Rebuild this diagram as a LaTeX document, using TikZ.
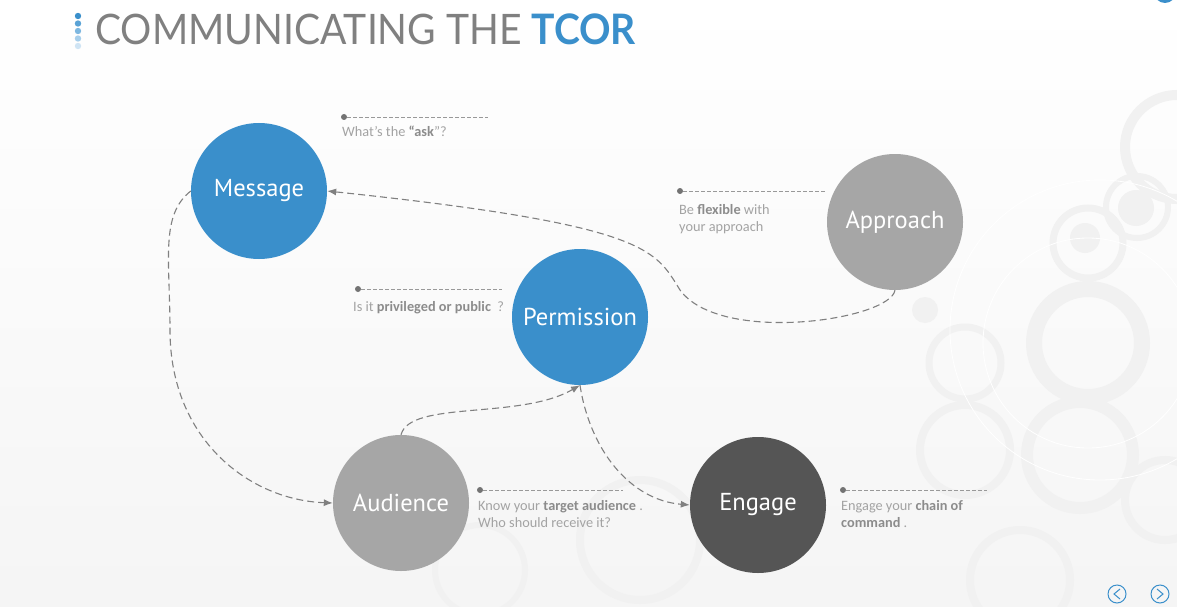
\documentclass[tikz,border=0pt]{standalone}
\usepackage{fontspec}
\setmainfont{Carlito}
\newfontfamily\circfont{PT Sans}
\newfontfamily\titlefont{Lato}
\usetikzlibrary{arrows.meta}
\definecolor{tblue}{HTML}{3A8FCB}
\definecolor{tgray}{HTML}{A6A6A6}
\definecolor{tdark}{HTML}{555555}
\definecolor{ttext}{HTML}{A3A3A3}
\definecolor{tbold}{HTML}{8C8C8C}
\definecolor{ring}{HTML}{F1F1F1}
\begin{document}
\begin{tikzpicture}[x=1pt,y=-1pt,
  stage/.style={circle,minimum size=136pt,inner sep=0pt,text=white,font=\circfont\fontsize{24.5}{26}\selectfont},
  flow/.style={draw=black!50,line width=1.1pt,dash pattern=on 7pt off 4pt,-{Latex[length=9pt,width=7pt]}},
  leader/.style={draw=black!40,line width=0.7pt,dash pattern=on 4pt off 2pt},
  pin/.style={circle,fill=black!55,inner sep=0pt,minimum size=6pt},
  note/.style={anchor=north west,inner sep=0pt,text=ttext,align=left,font=\fontsize{14.3}{17.5}\selectfont},
]
% page and soft background
\shade[top color=white,bottom color=black!4] (0,0) rectangle (1177,607);
\useasboundingbox (0,0) rectangle (1177,607);

% decorative rings
\begin{scope}
\draw[ring,line width=16pt] (1088,343) circle (54);
\draw[ring,line width=7pt] (1088,243) circle (35);
\fill[ring] (1085,238) circle (15);
\draw[ring,line width=6pt] (1137,207) circle (31);
\fill[ring] (1136,208) circle (18);
\draw[ring,line width=10pt] (1177,147) circle (52);
\fill[ring] (925,310) circle (13);
\draw[ring,line width=12pt] (1080,455) circle (53);
\draw[ring,line width=7pt] (965,363) circle (36);
\draw[ring,line width=8pt] (965,450) circle (45);
\draw[ring,line width=8pt] (1165,500) circle (40);
\draw[ring,line width=8pt] (640,540) circle (60);
\draw[ring,line width=6pt] (480,570) circle (45);
\draw[ring,line width=8pt] (1020,580) circle (50);
\draw[white,line width=0.8pt] (1088,343) circle (105);
\draw[white,line width=0.8pt] (1100,330) circle (150);
\end{scope}

% title
\foreach \i/\c in {0/3A8FCB,1/5AA3D6,2/7DB7E0,3/A6CEEB,4/CFE4F4}{
  \definecolor{dotc}{HTML}{\c}
  \fill[dotc] (78,16+7.5*\i) circle (3.2);
}
\node[anchor=base west,inner sep=0pt,xscale=0.93,transform shape,font=\titlefont\fontsize{42}{42}\selectfont] (title) at (95,45)
  {\textcolor{black!50}{COMMUNICATING THE} \textcolor{tblue}{\bfseries TCOR}};

% top-right fragment
\fill[tblue] (1165,-8) circle (11);

% stages
\node[stage,fill=tblue] (msg) at (259,191) {Message};
\node[stage,fill=tgray] (app) at (895,222) {Approach};
\node[stage,fill=tblue] (perm) at (580,317) {Permission};
\node[stage,fill=tgray] (aud) at (401,503) {Audience};
\node[stage,fill=tdark] (eng) at (758,505) {Engage};

% notes with leaders
\node[pin] (p1) at (344,117) {}; \coordinate (e1) at (488,117);
\draw[leader] (p1) -- (e1);
\node[note] (n1) at (342,126) {What's the \textcolor{tbold}{\bfseries“ask}”?};

\node[pin] (p2) at (680,191) {}; \coordinate (e2) at (825,191);
\draw[leader] (p2) -- (e2);
\node[note] (n2) at (679,204) {Be \textcolor{tbold}{\bfseries flexible} with\\your approach};

\node[pin] (p3) at (358,289) {}; \coordinate (e3) at (502,289);
\draw[leader] (p3) -- (e3);
\node[note] (n3) at (353,301) {Is it \textcolor{tbold}{\bfseries privileged or public} \ ?};

\node[pin] (p4) at (480,490) {}; \coordinate (e4) at (623,490);
\draw[leader] (p4) -- (e4);
\node[note] (n4) at (478,500) {Know your \textcolor{tbold}{\bfseries target audience} .\\Who should receive it?};

\node[pin] (p5) at (843,490) {}; \coordinate (e5) at (987,490);
\draw[leader] (p5) -- (e5);
\node[note] (n5) at (841,500) {Engage your \textcolor{tbold}{\bfseries chain of}\\\textcolor{tbold}{\bfseries command} .};

% connectors
\draw[flow] (app.south) .. controls (890,320) and (720,345) .. (680,290)
  .. controls (655,250) and (650,225) .. (msg.east);
\draw[flow] (msg.west) .. controls (160,215) and (170,260) .. (170,330)
  .. controls (170,440) and (250,500) .. (aud.west);
\draw[flow] (aud.north) .. controls (410,400) and (520,420) .. (perm.south);
\draw[flow] (perm.south) .. controls (590,450) and (630,500) .. (eng.west);

% navigation
\node[circle,draw=tblue,line width=1pt,minimum size=18pt,inner sep=0pt] (prev) at (1117,594) {};
\node[circle,draw=tblue,line width=1pt,minimum size=18pt,inner sep=0pt] (next) at (1160,594) {};
\draw[tblue,line width=1pt] (1120,589) -- (1114,594) -- (1120,599);
\draw[tblue,line width=1pt] (1157,589) -- (1163,594) -- (1157,599);
\end{tikzpicture}
\end{document}
